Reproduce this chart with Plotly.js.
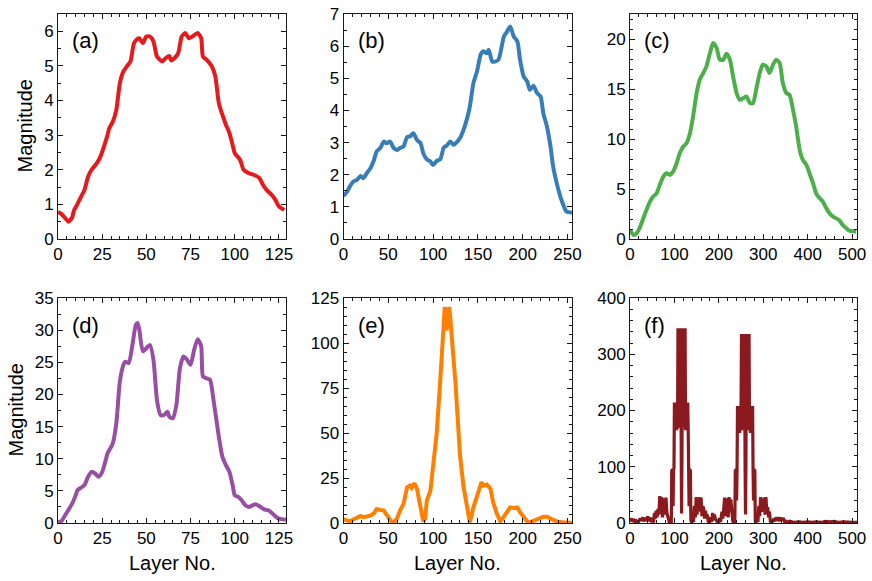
<!DOCTYPE html>
<html><head><meta charset="utf-8">
<script src="https://cdn.plot.ly/plotly-3.0.1.min.js"></script>
<style>html,body{margin:0;padding:0;background:#fff}#chart{width:872px;height:581px}</style>
</head><body><div id="chart"></div>
<script>
// ---------- data ----------
const layersA = [0,2,5,6,8,9,11,13,15,17,19,22,24,26,28,29,31,33,35,37,39,41,43,45,46,48,50,52,54,56,59,61,63,64,66,68,70,72,74,76,79,81,82,84,87,89,91,93,95,97,99,100,103,105,108,111,114,116,118,121,123,125,128];
const magA = [0.78,0.72,0.55,0.50,0.62,0.82,1.01,1.22,1.42,1.80,2.00,2.19,2.38,2.67,3.00,3.20,3.39,3.73,4.50,4.84,4.99,5.13,5.66,5.78,5.80,5.66,5.85,5.85,5.71,5.27,5.13,5.23,5.29,5.16,5.23,5.37,5.85,5.95,5.80,5.85,5.95,5.80,5.27,5.18,4.99,4.70,3.92,3.59,3.30,3.06,2.67,2.48,2.29,2.00,1.90,1.85,1.76,1.56,1.42,1.27,1.13,0.94,0.84];

const layersB = [0,4,7,11,15,19,22,26,30,34,37,41,45,48,52,56,60,63,67,71,74,78,82,86,89,93,97,100,104,108,112,115,119,123,127,130,134,138,141,145,149,153,156,160,162,166,169,173,179,182,186,190,194,197,201,205,208,212,216,220,223,227,231,234,238,242,246,249,255];
const magB = [1.34,1.47,1.63,1.79,1.84,1.96,1.89,2.05,2.20,2.46,2.72,2.83,3.03,2.98,3.03,2.83,2.77,2.83,2.88,3.17,3.19,3.29,3.08,2.98,2.67,2.48,2.41,2.30,2.43,2.48,2.85,2.90,3.03,2.93,3.03,3.14,3.40,3.76,4.12,4.85,5.21,5.73,5.84,5.78,5.89,5.52,5.52,5.58,6.30,6.43,6.61,6.30,6.15,5.58,5.06,4.90,4.64,4.77,4.54,4.43,3.91,3.50,2.88,2.25,1.73,1.32,1.01,0.85,0.82];

const layersC = [0,8,15,23,30,37,45,52,60,67,75,82,90,97,105,112,120,127,135,142,150,157,165,172,180,187,195,202,210,217,225,232,240,247,255,262,270,277,284,292,299,307,314,322,329,337,344,352,359,367,374,382,389,397,404,412,419,427,434,442,449,457,464,472,479,487,494,509];
const magC = [0.90,0.40,0.57,1.24,2.07,2.90,3.74,4.24,4.57,5.41,6.24,6.58,6.41,6.74,7.58,8.58,9.25,9.58,10.58,12.25,14.59,15.93,16.60,17.26,18.60,19.60,19.10,17.93,17.93,18.53,17.93,16.26,14.59,13.92,14.09,14.26,13.59,13.59,14.92,16.60,17.43,17.26,16.60,17.43,17.93,17.60,15.59,14.59,14.42,12.92,11.25,8.91,7.91,7.41,6.58,5.58,4.57,4.07,3.74,3.07,2.57,2.24,2.07,1.84,1.40,1.07,0.83,0.73];

const layersD = [0,2,4,6,8,10,11,13,15,17,19,21,23,25,27,28,31,33,35,37,38,40,42,44,45,46,48,50,52,54,56,58,60,62,63,65,67,69,71,73,75,77,79,81,82,84,86,88,91,93,95,97,99,100,102,104,106,108,110,112,114,116,117,119,121,123,125,129];
const magD = [0.16,0.30,1.20,2.08,3.00,4.30,5.10,5.50,5.90,7.20,7.96,7.70,7.20,7.96,9.78,10.80,12.40,15.50,22.00,24.60,25.10,24.90,27.50,30.80,31.10,30.06,26.70,27.20,27.70,25.40,19.10,16.80,16.80,17.30,16.50,16.30,18.40,24.10,25.90,25.40,24.60,26.90,28.60,27.50,22.80,22.50,22.30,19.10,13.40,10.30,9.00,7.96,5.60,4.30,4.06,3.50,2.76,2.50,2.76,2.90,2.60,2.24,2.08,1.98,1.56,1.04,0.68,0.52];

const layersE = [0,4,7,11,15,19,22,26,30,34,37,41,45,48,52,56,60,63,67,71,74,76,79,82,86,89,91,93,97,100,104,108,110,112,113,114,115,116,117,118,119,120,122,125,128,130,134,138,141,145,149,153,154,156,160,164,167,171,175,179,182,186,190,194,197,201,205,208,212,216,220,223,227,231,234,238,244,255];
const magE = [2.2,1.3,0.9,1.9,2.8,3.9,3.2,3.5,4.1,5.4,7.8,7.3,6.9,4.7,1.7,0.0,2.8,6.9,10.6,19.9,20.8,19.5,22.1,19.0,9.7,0.9,2.2,12.5,18.0,31.0,49.7,79.4,100,117,120,116,107,110,119.5,120,115,110,96,77.6,49.7,37.6,19.9,8.7,0.4,8.7,14.7,21.8,22.7,20.8,21.4,19.0,11.5,5.4,0.9,3.5,6.0,8.7,8.4,8.7,6.0,3.2,0.9,0.4,1.3,2.2,3.2,3.5,3.5,2.8,1.7,0.9,0.4,0.2];

const layersF = [0,3,5,8,11,14,17,20,23,26,29,31,34,37,40,42,45,47,50,53,55,57,59,61,63,65,67,69,71,73,75,77,79,81,83,85,87,89,91,93,
  94,95,96,97,98,99,100,101,102,103,104,105,106,107,108,109,110,111,112,113,114,115,116,117,118,119,120,121,122,123,124,125,126,127,128,129,130,131,132,133,134,135,136,137,139,
  141,143,145,147,149,151,153,155,157,159,160,162,164,166,168,170,172,174,176,179,182,184,186,188,190,192,195,198,201,204,207,209,211,213,215,217,219,221,223,225,227,229,231,233,236,
  237,238,239,240,241,242,243,244,245,246,247,248,249,250,251,252,253,254,255,256,257,258,259,260,261,262,263,264,265,266,267,268,269,270,271,272,273,274,275,276,277,278,279,280,281,282,284,
  286,288,290,292,294,296,298,300,302,304,306,308,310,312,314,316,318,320,322,324,326,329,331,334,337,340,342,345,348,352,356,360,370,380,390,400,410,420,430,440,450,460,470,480,490,500,511];
const magF = [3,8,2,7,2,4,1,3,8,4,10,3,9,4,12,3,10,2,5,1,18,8,22,10,25,15,48,20,46,10,28,44,15,45,18,10,2,0,8,0,
  95,30,97,30,96,95,214,165,214,165,214,165,214,168,346,170,346,172,346,170,346,120,17,120,346,170,346,172,346,170,346,165,214,165,214,165,214,165,96,30,97,30,95,5,0,
  12,2,30,10,46,15,40,25,46,20,45,12,30,25,8,22,10,15,3,0,10,2,18,5,15,8,3,0,5,2,20,8,25,45,12,44,25,10,46,20,42,15,5,0,2,
  95,40,97,40,95,208,160,208,160,208,160,208,165,210,336,165,336,168,336,165,336,336,110,15,110,336,165,336,168,336,165,336,165,208,160,208,160,208,160,208,95,40,97,40,95,5,0,
  10,2,30,12,46,20,40,25,45,15,46,20,28,10,20,3,0,5,2,8,3,10,4,10,3,10,5,9,2,3,1,3,1,2,1,2,1,2,1,3,2,3,1,2,1,1,1];

const panelTags = ['(a)','(b)','(c)','(d)','(e)','(f)'];
const layerSets = [layersA, layersB, layersC, layersD, layersE, layersF];
const magSets = [magA, magB, magC, magD, magE, magF];

// ---------- styling / geometry ----------
const colors = ['#e41a1c','#377eb8','#4daf4a','#984ea3','#ff7f00','#8b1a1e'];
const lineW = [4,4,4,4,4,3.2];
const smooth = [0.6,0.6,0.6,0.6,0,0];
const xMax = [129,255,511,129,255,511];
const yMax = [6.5,7,22.5,35,125,400];
const xMajor = [25,50,100,25,50,100];
const xMinor = [5,10,20,5,10,20];
const yMajor = [1,1,5,5,25,100];
const yMinor = [0.5,0.5,1,2.5,5,20];
const W = 872, H = 581;
const colL = [58,343.5,630], colR = [286,572,857];
const rowT = [14,298], rowB = [239,523];
const FONT = 'Liberation Sans, Arial, Helvetica, sans-serif';
const frame = '#1a1a1a';

const traces = [];
const layout = {
  width: W, height: H,
  margin: {l:0, r:0, t:0, b:0},
  paper_bgcolor: '#fff', plot_bgcolor: '#fff',
  showlegend: false,
  font: {family: FONT, color: '#000'},
  annotations: []
};

for (let i = 0; i < 6; i++) {
  const c = i % 3, r = Math.floor(i / 3);
  const sfx = i === 0 ? '' : String(i + 1);
  traces.push({
    type: 'scatter', mode: 'lines',
    x: layerSets[i], y: magSets[i],
    xaxis: 'x' + sfx, yaxis: 'y' + sfx,
    line: {color: colors[i], width: lineW[i],
           shape: smooth[i] > 0 ? 'spline' : 'linear',
           smoothing: smooth[i] > 0 ? smooth[i] : undefined},
    hoverinfo: 'skip'
  });
  const common = {
    showline: true, linecolor: frame, linewidth: 1, mirror: 'allticks',
    ticks: 'inside', ticklen: 5, tickwidth: 1, tickcolor: frame,
    showgrid: false, zeroline: false, tick0: 0,
    tickfont: {family: FONT, size: 17, color: '#000'},
    fixedrange: true
  };
  layout['xaxis' + sfx] = Object.assign({}, common, {
    domain: [colL[c] / W, colR[c] / W],
    range: [0, xMax[i]], dtick: xMajor[i],
    anchor: 'y' + sfx,
    minor: {dtick: xMinor[i], tick0: 0, ticks: 'inside', ticklen: 3, tickwidth: 1, tickcolor: frame, showgrid: false}
  });
  layout['yaxis' + sfx] = Object.assign({}, common, {
    domain: [1 - rowB[r] / H, 1 - rowT[r] / H],
    range: [0, yMax[i]], dtick: yMajor[i],
    anchor: 'x' + sfx,
    minor: {dtick: yMinor[i], tick0: 0, ticks: 'inside', ticklen: 3, tickwidth: 1, tickcolor: frame, showgrid: false}
  });
  layout.annotations.push({
    text: panelTags[i], showarrow: false,
    xref: 'x' + sfx + ' domain', yref: 'y' + sfx + ' domain',
    x: 12 / (colR[c] - colL[c]), y: 1 - 27 / 225,
    xanchor: 'left', yanchor: 'middle',
    font: {family: FONT, size: 22, color: '#000'}
  });
}

// axis titles
[0,1].forEach(r => {
  layout.annotations.push({
    text: 'Magnitude', showarrow: false, textangle: -90,
    xref: 'paper', yref: 'paper',
    x: (r === 0 ? 25 : 15) / W, y: 1 - ((rowT[r] + rowB[r]) / 2) / H,
    xanchor: 'center', yanchor: 'middle',
    font: {family: FONT, size: 20, color: '#000'}
  });
});
[0,1,2].forEach(c => {
  layout.annotations.push({
    text: 'Layer No.', showarrow: false,
    xref: 'paper', yref: 'paper',
    x: ((colL[c] + colR[c]) / 2) / W, y: 1 - 563 / H,
    xanchor: 'center', yanchor: 'middle',
    font: {family: FONT, size: 20, color: '#000'}
  });
});

Plotly.newPlot('chart', traces, layout, {displayModeBar: false, staticPlot: true});
</script>
</body></html>
